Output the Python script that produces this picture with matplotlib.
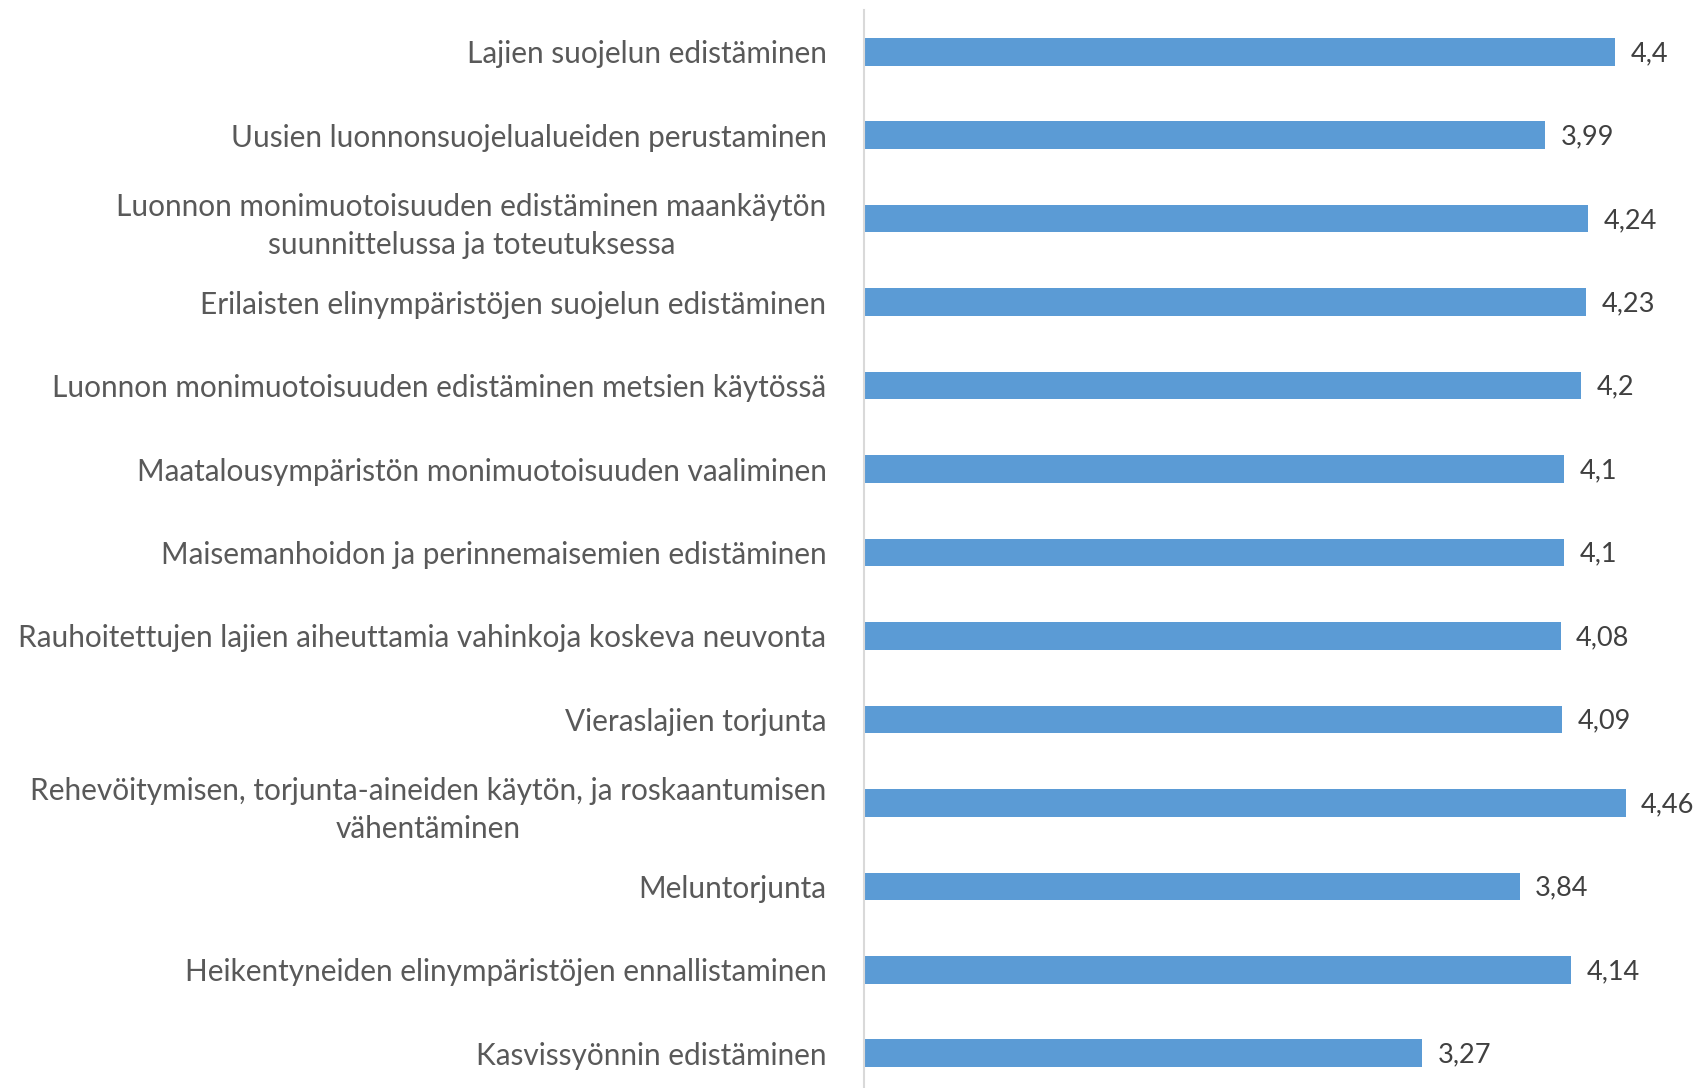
import matplotlib.pyplot as plt

# Arvot luettu kuvasta
categories = [
    "Lajien suojelun edistäminen",
    "Uusien luonnonsuojelualueiden perustaminen",
    "Luonnon monimuotoisuuden edistäminen maankäytön\nsuunnittelussa ja toteutuksessa",
    "Erilaisten elinympäristöjen suojelun edistäminen",
    "Luonnon monimuotoisuuden edistäminen metsien käytössä",
    "Maatalousympäristön monimuotoisuuden vaaliminen",
    "Maisemanhoidon ja perinnemaisemien edistäminen",
    "Rauhoitettujen lajien aiheuttamia vahinkoja koskeva neuvonta",
    "Vieraslajien torjunta",
    "Rehevöitymisen, torjunta-aineiden käytön, ja roskaantumisen\nvähentäminen",
    "Meluntorjunta",
    "Heikentyneiden elinympäristöjen ennallistaminen",
    "Kasvissyönnin edistäminen",
]
values = [4.4, 3.99, 4.24, 4.23, 4.2, 4.1, 4.1, 4.08, 4.09, 4.46, 3.84, 4.14, 3.27]
value_labels = ["4,4", "3,99", "4,24", "4,23", "4,2", "4,1", "4,1", "4,08", "4,09", "4,46", "3,84", "4,14", "3,27"]

plt.rcParams['font.family'] = ['Lato', 'DejaVu Sans']

fig = plt.figure(figsize=(16.99, 10.88), dpi=100)
ax = fig.add_axes([864 / 1699, -7 / 1088, 1 - 864 / 1699, 1085 / 1088])

y = list(range(len(categories)))
ax.barh(y, values, height=0.33, color='#5B9BD5')
ax.set_ylim(len(categories) - 0.5, -0.5)
ax.set_xlim(0, 4.89)

for yi, v, lab in zip(y, values, value_labels):
    ax.text(v + 0.09, yi + 0.02, lab, va='center', ha='left', fontsize=19.5, color='#404040')

ax.set_yticks(y)
ax.set_yticklabels(categories, fontsize=21.4, color='#595959',
                   multialignment='center', linespacing=1.42)
ax.tick_params(axis='y', length=0, pad=27)
ax.set_xticks([])

for s in ['top', 'right', 'bottom']:
    ax.spines[s].set_visible(False)
ax.spines['left'].set_color('#D9D9D9')
ax.spines['left'].set_linewidth(1.5)

fig.savefig('out.png', dpi=100)
